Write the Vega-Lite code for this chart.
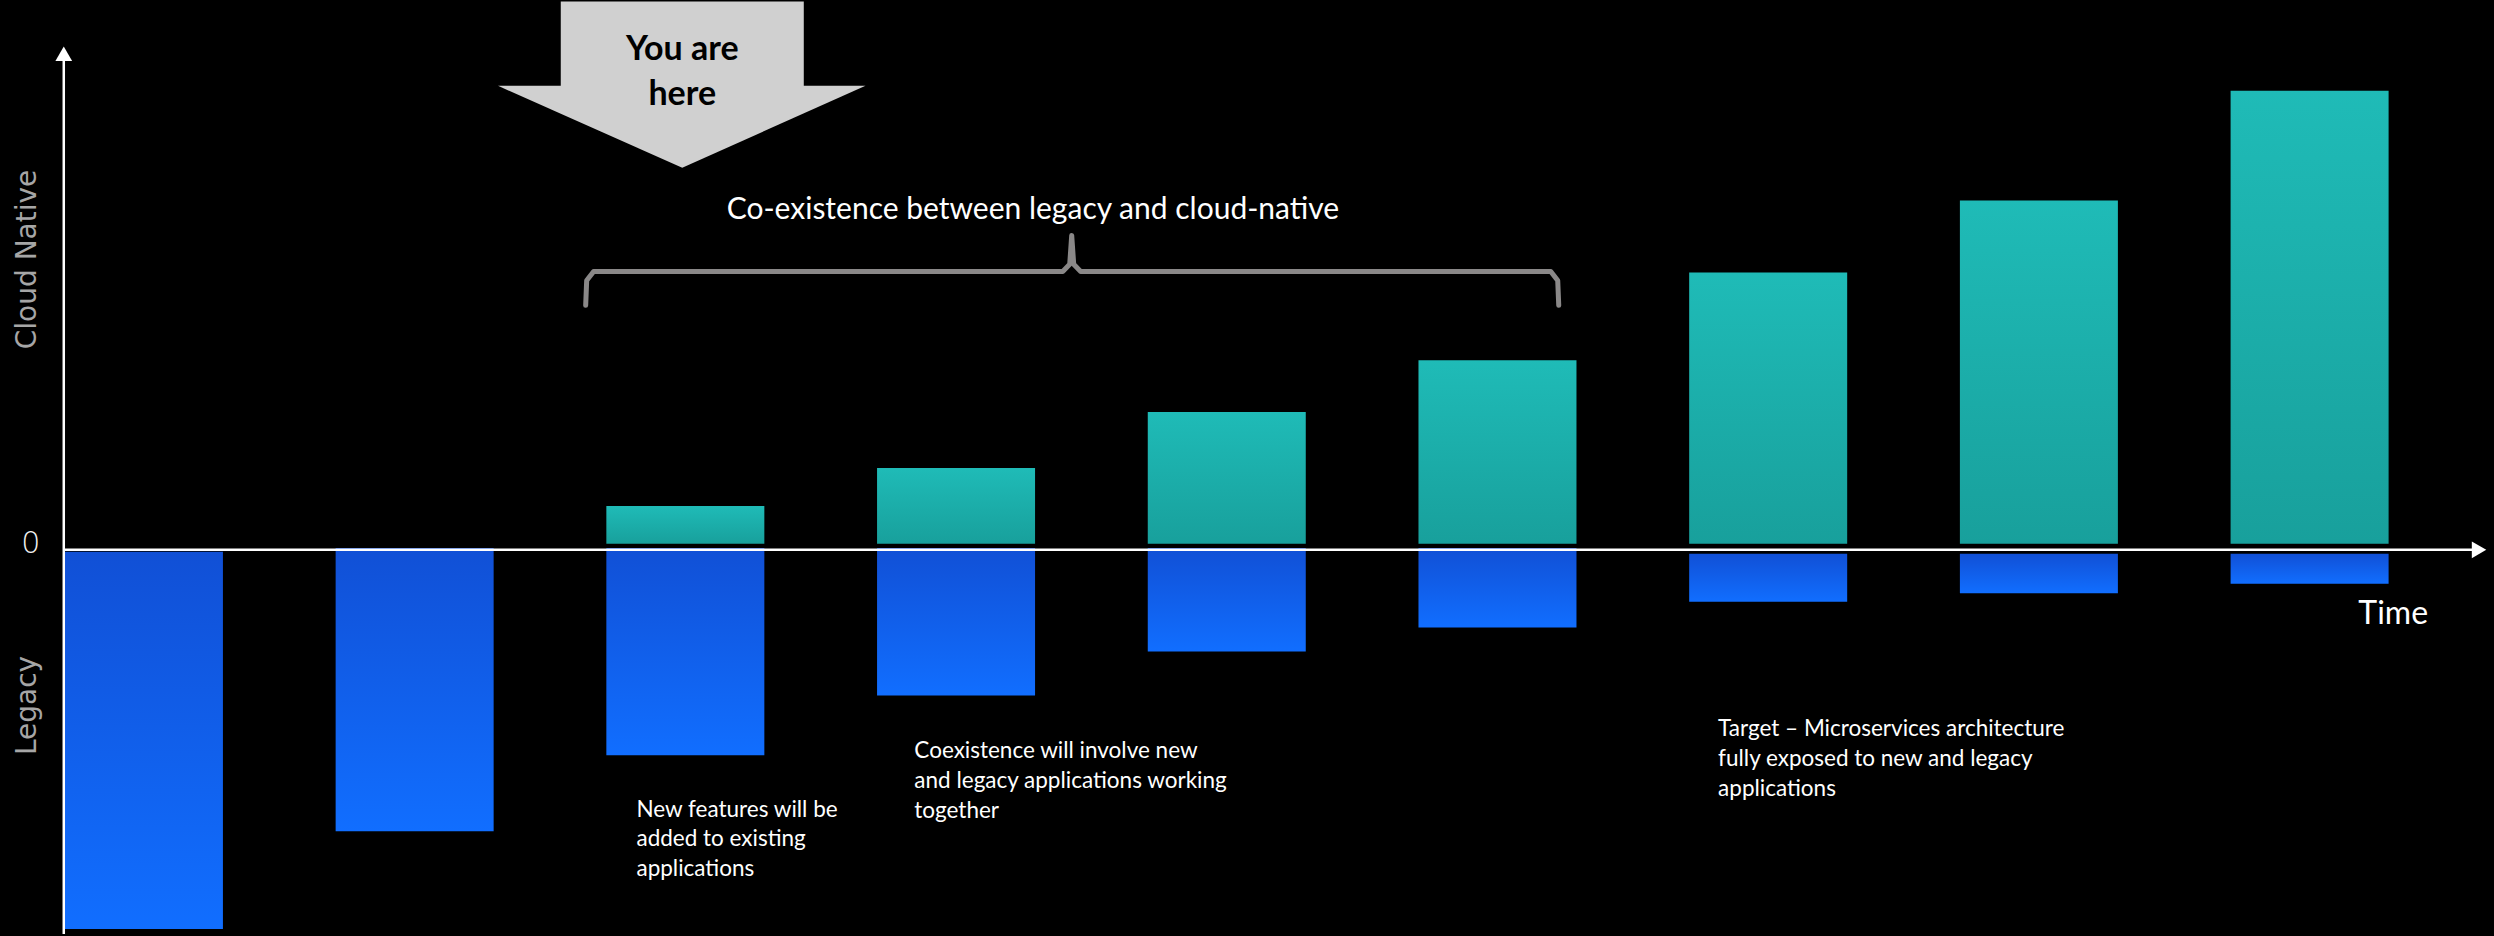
{
  "$schema": "https://vega.github.io/schema/vega-lite/v6.json",
  "width": 2494,
  "height": 936,
  "autosize": {"type": "fit", "contains": "padding"},
  "padding": 0,
  "background": "#000000",
  "config": {"view": {"stroke": null}},
  "datasets": {
    "cloud": [
      {"x": 3, "y": 1.6, "y2": 11.58},
      {"x": 4, "y": 1.6, "y2": 21.58},
      {"x": 5, "y": 1.6, "y2": 36.32},
      {"x": 6, "y": 1.6, "y2": 50.0},
      {"x": 7, "y": 1.6, "y2": 73.16},
      {"x": 8, "y": 1.6, "y2": 92.1},
      {"x": 9, "y": 1.6, "y2": 121.05}
    ],
    "legacy": [
      {"x": 1, "y": -0.5, "y2": -100.0},
      {"x": 2, "y": 0.5, "y2": -74.2},
      {"x": 3, "y": 0.5, "y2": -54.2},
      {"x": 4, "y": 0.5, "y2": -38.4},
      {"x": 5, "y": 0.5, "y2": -26.8},
      {"x": 6, "y": 0.5, "y2": -20.5},
      {"x": 7, "y": -1.05, "y2": -13.7},
      {"x": 8, "y": -1.05, "y2": -11.45},
      {"x": 9, "y": -1.05, "y2": -8.95}
    ],
    "axes": [
      {"x": 0.7039, "x2": 0.7039, "y": -101.3, "y2": 129.0},
      {"x": 0.7039, "x2": 9.612, "y": 0, "y2": 0}
    ],
    "heads": [
      {"x": 0.7039, "y": 130.8, "dir": "up"},
      {"x": 9.6259, "y": 0, "dir": "right"}
    ],
    "brace": [
      {"o": 1, "x": 2.6318, "y": 64.47},
      {"o": 2, "x": 2.6355, "y": 71.0},
      {"o": 3, "x": 2.6612, "y": 73.42},
      {"o": 4, "x": 4.3941, "y": 73.42},
      {"o": 5, "x": 4.4199, "y": 75.3},
      {"o": 6, "x": 4.4272, "y": 82.9},
      {"o": 7, "x": 4.4346, "y": 75.3},
      {"o": 8, "x": 4.4603, "y": 73.42},
      {"o": 9, "x": 6.1969, "y": 73.42},
      {"o": 10, "x": 6.2226, "y": 71.0},
      {"o": 11, "x": 6.2263, "y": 64.47}
    ],
    "arrowBox": [
      {"x": 2.5398, "x2": 3.4375, "y": 144.6, "y2": 122.2}
    ],
    "arrowTip": [
      {"x": 2.308, "y": 122.37, "y2": 122.37},
      {"x": 2.9886, "y": 122.37, "y2": 100.79},
      {"x": 3.6656, "y": 122.37, "y2": 122.37}
    ],
    "here": [
      {"x": 2.9886, "y": 131.84, "text": "You are"},
      {"x": 2.9886, "y": 120.0, "text": "here"}
    ],
    "notes": [
      {"x": 2.8194, "y": -68.68, "text": "New features will be"},
      {"x": 2.8194, "y": -76.32, "text": "added to existing"},
      {"x": 2.8194, "y": -84.21, "text": "applications"},
      {"x": 3.8459, "y": -53.16, "text": "Coexistence will involve new"},
      {"x": 3.8459, "y": -61.05, "text": "and legacy applications working"},
      {"x": 3.8459, "y": -68.95, "text": "together"},
      {"x": 6.815, "y": -47.37, "text": "Target – Microservices architecture"},
      {"x": 6.815, "y": -55.26, "text": "fully exposed to new and legacy"},
      {"x": 6.815, "y": -63.16, "text": "applications"}
    ],
    "coex": [
      {"x": 4.284, "y": 89.74, "text": "Co-existence between legacy and cloud-native"}
    ],
    "time": [
      {"x": 9.18, "y": -16.84, "text": "Time"}
    ],
    "zero": [
      {"x": 0.5825, "y": 1.58, "text": "0"}
    ],
    "side": [
      {"x": 0.5714, "y": 76.58, "text": "Cloud Native"},
      {"x": 0.5714, "y": -41.05, "text": "Legacy"}
    ]
  },
  "layer": [
    {
      "data": {"name": "cloud"},
      "mark": {
        "type": "bar",
        "size": 158,
        "color": {
          "gradient": "linear", "x1": 0, "y1": 0, "x2": 0, "y2": 1,
          "stops": [{"offset": 0, "color": "#1FBBB7"}, {"offset": 1, "color": "#18A09C"}]
        }
      },
      "encoding": {
        "x": {"field": "x", "type": "quantitative", "scale": {"domain": [0.4868, 9.6627], "nice": false, "zero": false}, "axis": null},
        "y": {"field": "y", "type": "quantitative", "scale": {"domain": [-101.316, 145], "nice": false, "zero": false}, "axis": null},
        "y2": {"field": "y2"}
      }
    },
    {
      "data": {"name": "legacy"},
      "mark": {
        "type": "bar",
        "size": 158,
        "color": {
          "gradient": "linear", "x1": 0, "y1": 0, "x2": 0, "y2": 1,
          "stops": [{"offset": 0, "color": "#1150D6"}, {"offset": 1, "color": "#116EFF"}]
        }
      },
      "encoding": {
        "x": {"field": "x", "type": "quantitative", "scale": {"domain": [0.4868, 9.6627], "nice": false, "zero": false}, "axis": null},
        "y": {"field": "y", "type": "quantitative", "scale": {"domain": [-101.316, 145], "nice": false, "zero": false}, "axis": null},
        "y2": {"field": "y2"}
      }
    },
    {
      "data": {"name": "axes"},
      "mark": {"type": "rule", "color": "#FFFFFF", "strokeWidth": 2.5},
      "encoding": {
        "x": {"field": "x", "type": "quantitative", "scale": {"domain": [0.4868, 9.6627], "nice": false, "zero": false}, "axis": null},
        "x2": {"field": "x2"},
        "y": {"field": "y", "type": "quantitative", "scale": {"domain": [-101.316, 145], "nice": false, "zero": false}, "axis": null},
        "y2": {"field": "y2"}
      }
    },
    {
      "data": {"name": "heads"},
      "mark": {"type": "point", "filled": true, "color": "#FFFFFF", "opacity": 1, "size": 280},
      "encoding": {
        "x": {"field": "x", "type": "quantitative", "scale": {"domain": [0.4868, 9.6627], "nice": false, "zero": false}, "axis": null},
        "y": {"field": "y", "type": "quantitative", "scale": {"domain": [-101.316, 145], "nice": false, "zero": false}, "axis": null},
        "shape": {"field": "dir", "type": "nominal", "scale": {"domain": ["up", "right"], "range": ["triangle-up", "triangle-right"]}, "legend": null}
      }
    },
    {
      "data": {"name": "brace"},
      "mark": {"type": "line", "color": "#8A8888", "strokeWidth": 5, "strokeCap": "round", "strokeJoin": "round"},
      "encoding": {
        "x": {"field": "x", "type": "quantitative", "scale": {"domain": [0.4868, 9.6627], "nice": false, "zero": false}, "axis": null},
        "y": {"field": "y", "type": "quantitative", "scale": {"domain": [-101.316, 145], "nice": false, "zero": false}, "axis": null},
        "order": {"field": "o", "type": "quantitative"}
      }
    },
    {
      "data": {"name": "arrowBox"},
      "mark": {"type": "rect", "color": "#D0D0D0"},
      "encoding": {
        "x": {"field": "x", "type": "quantitative", "scale": {"domain": [0.4868, 9.6627], "nice": false, "zero": false}, "axis": null},
        "x2": {"field": "x2"},
        "y": {"field": "y", "type": "quantitative", "scale": {"domain": [-101.316, 145], "nice": false, "zero": false}, "axis": null},
        "y2": {"field": "y2"}
      }
    },
    {
      "data": {"name": "arrowTip"},
      "mark": {"type": "area", "color": "#D0D0D0", "opacity": 1},
      "encoding": {
        "x": {"field": "x", "type": "quantitative", "scale": {"domain": [0.4868, 9.6627], "nice": false, "zero": false}, "axis": null},
        "y": {"field": "y", "type": "quantitative", "scale": {"domain": [-101.316, 145], "nice": false, "zero": false}, "axis": null},
        "y2": {"field": "y2"}
      }
    },
    {
      "data": {"name": "here"},
      "mark": {"type": "text", "font": "Lato", "fontWeight": "bold", "fontSize": 34, "color": "#000000", "align": "center", "baseline": "middle"},
      "encoding": {
        "x": {"field": "x", "type": "quantitative", "scale": {"domain": [0.4868, 9.6627], "nice": false, "zero": false}, "axis": null},
        "y": {"field": "y", "type": "quantitative", "scale": {"domain": [-101.316, 145], "nice": false, "zero": false}, "axis": null},
        "text": {"field": "text"}
      }
    },
    {
      "data": {"name": "notes"},
      "mark": {"type": "text", "font": "Lato", "fontSize": 22.5, "color": "#FFFFFF", "align": "left", "baseline": "middle"},
      "encoding": {
        "x": {"field": "x", "type": "quantitative", "scale": {"domain": [0.4868, 9.6627], "nice": false, "zero": false}, "axis": null},
        "y": {"field": "y", "type": "quantitative", "scale": {"domain": [-101.316, 145], "nice": false, "zero": false}, "axis": null},
        "text": {"field": "text"}
      }
    },
    {
      "data": {"name": "coex"},
      "mark": {"type": "text", "font": "Lato", "fontSize": 30, "color": "#FFFFFF", "align": "center", "baseline": "middle"},
      "encoding": {
        "x": {"field": "x", "type": "quantitative", "scale": {"domain": [0.4868, 9.6627], "nice": false, "zero": false}, "axis": null},
        "y": {"field": "y", "type": "quantitative", "scale": {"domain": [-101.316, 145], "nice": false, "zero": false}, "axis": null},
        "text": {"field": "text"}
      }
    },
    {
      "data": {"name": "time"},
      "mark": {"type": "text", "font": "Lato", "fontSize": 32, "color": "#FFFFFF", "align": "left", "baseline": "middle"},
      "encoding": {
        "x": {"field": "x", "type": "quantitative", "scale": {"domain": [0.4868, 9.6627], "nice": false, "zero": false}, "axis": null},
        "y": {"field": "y", "type": "quantitative", "scale": {"domain": [-101.316, 145], "nice": false, "zero": false}, "axis": null},
        "text": {"field": "text"}
      }
    },
    {
      "data": {"name": "zero"},
      "mark": {"type": "text", "font": "DejaVu Sans", "fontSize": 30, "fontWeight": 300, "color": "#F2F2F2", "align": "center", "baseline": "middle"},
      "encoding": {
        "x": {"field": "x", "type": "quantitative", "scale": {"domain": [0.4868, 9.6627], "nice": false, "zero": false}, "axis": null},
        "y": {"field": "y", "type": "quantitative", "scale": {"domain": [-101.316, 145], "nice": false, "zero": false}, "axis": null},
        "text": {"field": "text"}
      }
    },
    {
      "data": {"name": "side"},
      "mark": {"type": "text", "font": "DejaVu Sans", "fontSize": 28, "color": "#A6A6A6", "align": "center", "baseline": "middle", "angle": 270},
      "encoding": {
        "x": {"field": "x", "type": "quantitative", "scale": {"domain": [0.4868, 9.6627], "nice": false, "zero": false}, "axis": null},
        "y": {"field": "y", "type": "quantitative", "scale": {"domain": [-101.316, 145], "nice": false, "zero": false}, "axis": null},
        "text": {"field": "text"}
      }
    }
  ]
}
